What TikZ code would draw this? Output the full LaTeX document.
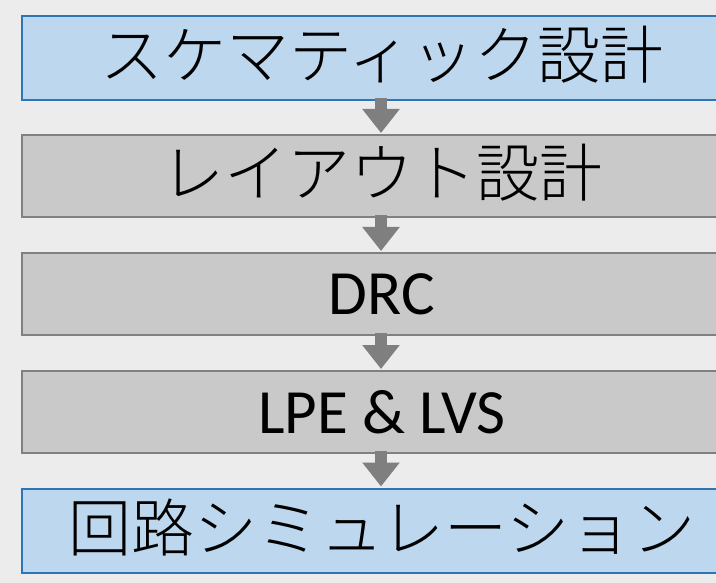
\documentclass[tikz,border=0pt]{standalone}
\usepackage{fontspec}
\setmainfont{Carlito}
\newfontfamily\jp{Noto Sans CJK JP}[UprightFont={* Light}]
\usetikzlibrary{arrows.meta}
\definecolor{bg}{RGB}{236,236,236}
\definecolor{bluefill}{RGB}{189,215,238}
\definecolor{blueline}{RGB}{46,117,182}
\definecolor{grayfill}{RGB}{201,201,201}
\definecolor{grayline}{RGB}{128,128,128}
\definecolor{arrowcol}{RGB}{127,127,127}
\begin{document}
\begin{tikzpicture}[x=1pt,y=-1pt,
  stepbox/.style={minimum width=720pt,minimum height=84pt,inner sep=0pt,
    line width=2pt,text height=42pt,text depth=0pt,font=\fontsize{63}{70}\selectfont},
  bluebox/.style={stepbox,draw=blueline,fill=bluefill},
  graybox/.style={stepbox,draw=grayline,fill=grayfill,minimum height=82pt},
  arr/.style={draw=arrowcol,line width=12pt,
    -{Triangle[width=36pt,length=24pt]},shorten <=-3pt,shorten >=1pt}]
\useasboundingbox (0,0) rectangle (716,583);
\fill[bg] (0,0) rectangle (716,583);
\node[bluebox] (s1) at (382,58) {\jp スケマティック設計};
\node[graybox] (s2) at (382,176) {\jp レイアウト設計};
\node[graybox] (s3) at (382,294) {DRC};
\node[graybox] (s4) at (382,412) {LPE \& LVS};
\node[bluebox] (s5) at (382,530.5) {\jp 回路シミュレーション};
\draw[arr] ([xshift=-1pt]s1.south) -- ([xshift=-1pt]s2.north);
\draw[arr] ([xshift=-1pt]s2.south) -- ([xshift=-1pt]s3.north);
\draw[arr] ([xshift=-1pt]s3.south) -- ([xshift=-1pt]s4.north);
\draw[arr] ([xshift=-1pt]s4.south) -- ([xshift=-1pt]s5.north);
\end{tikzpicture}
\end{document}
